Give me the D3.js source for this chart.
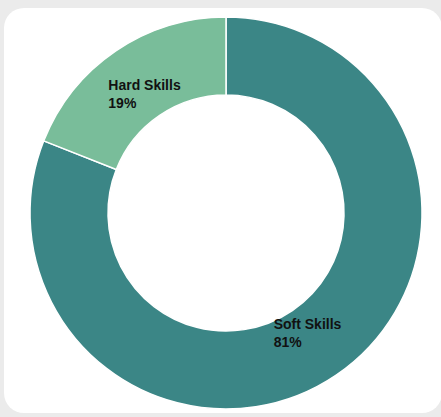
<!DOCTYPE html>
<html><head><meta charset="utf-8">
<script src="https://cdn.jsdelivr.net/npm/d3@7"></script>
<style>html,body{margin:0;padding:0;background:#ebebeb;overflow:hidden}</style>
</head><body>
<svg id="c" width="441" height="417"></svg>
<script>
const categories = ["Soft Skills", "Hard Skills"];
const values = [81, 19];
const colors = ["#3B8686", "#79BD9A"];

const svg = d3.select("#c");
svg.append("rect").attr("x",4).attr("y",8).attr("width",438).attr("height",405).attr("rx",20).attr("fill","#ffffff");

const cx = 226, cy = 213, rOuter = 196, rInner = 118;
const data = categories.map((c,i)=>({name:c, value:values[i], color:colors[i]}));
const pie = d3.pie().value(d=>d.value).sort(null);
const arc = d3.arc().innerRadius(rInner).outerRadius(rOuter);
const labelArc = d3.arc().innerRadius(145).outerRadius(145);
const g = svg.append("g").attr("transform",`translate(${cx},${cy})`);
const arcs = pie(data);
g.selectAll("path").data(arcs).join("path")
  .attr("d",arc).attr("fill",d=>d.data.color)
  .attr("stroke","#ffffff").attr("stroke-width",1.5);

const total = d3.sum(values);
arcs.forEach(a=>{
  const [lx,ly] = labelArc.centroid(a);
  const t = g.append("text").attr("font-family","Liberation Sans, Arial, sans-serif")
    .attr("font-weight","bold").attr("font-size",14).attr("fill","#111");
  const l1 = t.append("tspan").text(a.data.name);
  const l2 = t.append("tspan").text(Math.round(a.data.value/total*100)+"%");
  const w = Math.max(l1.node().getComputedTextLength(), l2.node().getComputedTextLength());
  const x0 = lx - w/2;
  l1.attr("x",x0).attr("y",ly-3.5);
  l2.attr("x",x0).attr("y",ly+14.5);
});
</script>
</body></html>
